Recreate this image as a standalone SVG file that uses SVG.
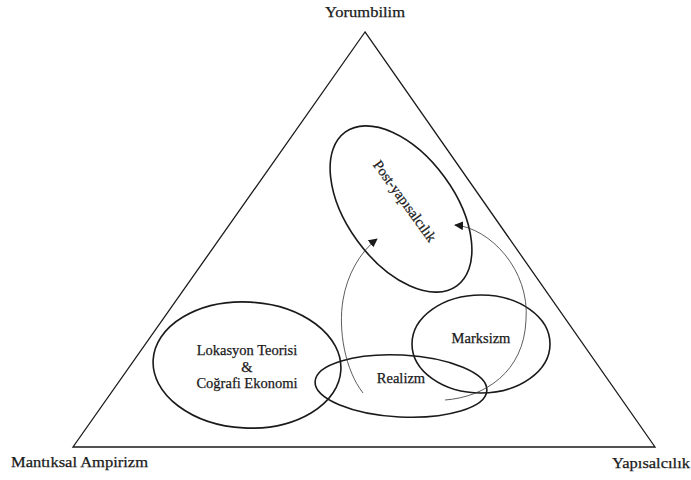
<svg xmlns="http://www.w3.org/2000/svg" width="691" height="480" viewBox="0 0 691 480">
  <style>
    .corner { font-size: 15px; }
    .inner { font-size: 14.5px; }
    .lbl { stroke: #1a1a1a; stroke-width: 0.25; }
    .shape { fill: none; stroke: #1a1a1a; stroke-width: 1.6; }
    .tri { fill: none; stroke: #1a1a1a; stroke-width: 1.3; }
    .conn { fill: none; stroke: #333; stroke-width: 0.8; }
  </style>
  <defs>
    <marker id="arrow" viewBox="0 0 10 10" refX="9" refY="5" markerWidth="9" markerHeight="9" markerUnits="userSpaceOnUse" orient="auto">
      <path d="M0,0 L10,5 L0,10 Z" fill="#1a1a1a"/>
    </marker>
  </defs>
  <rect width="691" height="480" fill="#ffffff"/>

  <g font-family="Liberation Serif, Times New Roman, serif" fill="#1a1a1a">
  <g id="triangle">
    <polygon class="tri" points="365,32 73,447 655,447"/>
    <text class="corner lbl" x="365" y="17" text-anchor="middle" textLength="80" lengthAdjust="spacingAndGlyphs">Yorumbilim</text>
    <text class="corner lbl" x="11" y="467" textLength="137" lengthAdjust="spacingAndGlyphs">Mantıksal Ampirizm</text>
    <text class="corner lbl" x="612" y="468" textLength="78" lengthAdjust="spacingAndGlyphs">Yapısalcılık</text>
  </g>

  <g id="post-yapisalcilik">
    <ellipse class="shape" cx="401" cy="209" rx="95" ry="54" transform="rotate(54 401 209)"/>
    <text class="inner lbl" transform="translate(405 201) rotate(54)" x="0" y="5" text-anchor="middle">Post-yapısalcılık</text>
  </g>

  <g id="lokasyon">
    <ellipse class="shape" cx="247" cy="365" rx="94" ry="63" transform="rotate(3 247 365)"/>
    <text class="inner lbl" x="247" y="355" text-anchor="middle">Lokasyon Teorisi</text>
    <text class="inner lbl" x="247" y="372" text-anchor="middle">&amp;</text>
    <text class="inner lbl" x="247" y="388" text-anchor="middle">Coğrafi Ekonomi</text>
  </g>

  <g id="realizm">
    <ellipse class="shape" cx="401" cy="386" rx="86" ry="31" transform="rotate(3 401 386)"/>
    <text class="inner lbl" x="401" y="383" text-anchor="middle">Realizm</text>
  </g>

  <g id="marksizm">
    <ellipse class="shape" cx="481" cy="344" rx="69" ry="49"/>
    <text class="inner lbl" x="481" y="343" text-anchor="middle">Marksizm</text>
  </g>
  </g>

  <g id="connectors">
    <path class="conn" d="M363,393 C345,370 338,330 343,300 C347,275 360,252 377,239" marker-end="url(#arrow)"/>
    <path class="conn" d="M445,400 C485,397 524,372 526,320 C530,270 490,228 455,225" marker-end="url(#arrow)"/>
  </g>
</svg>
